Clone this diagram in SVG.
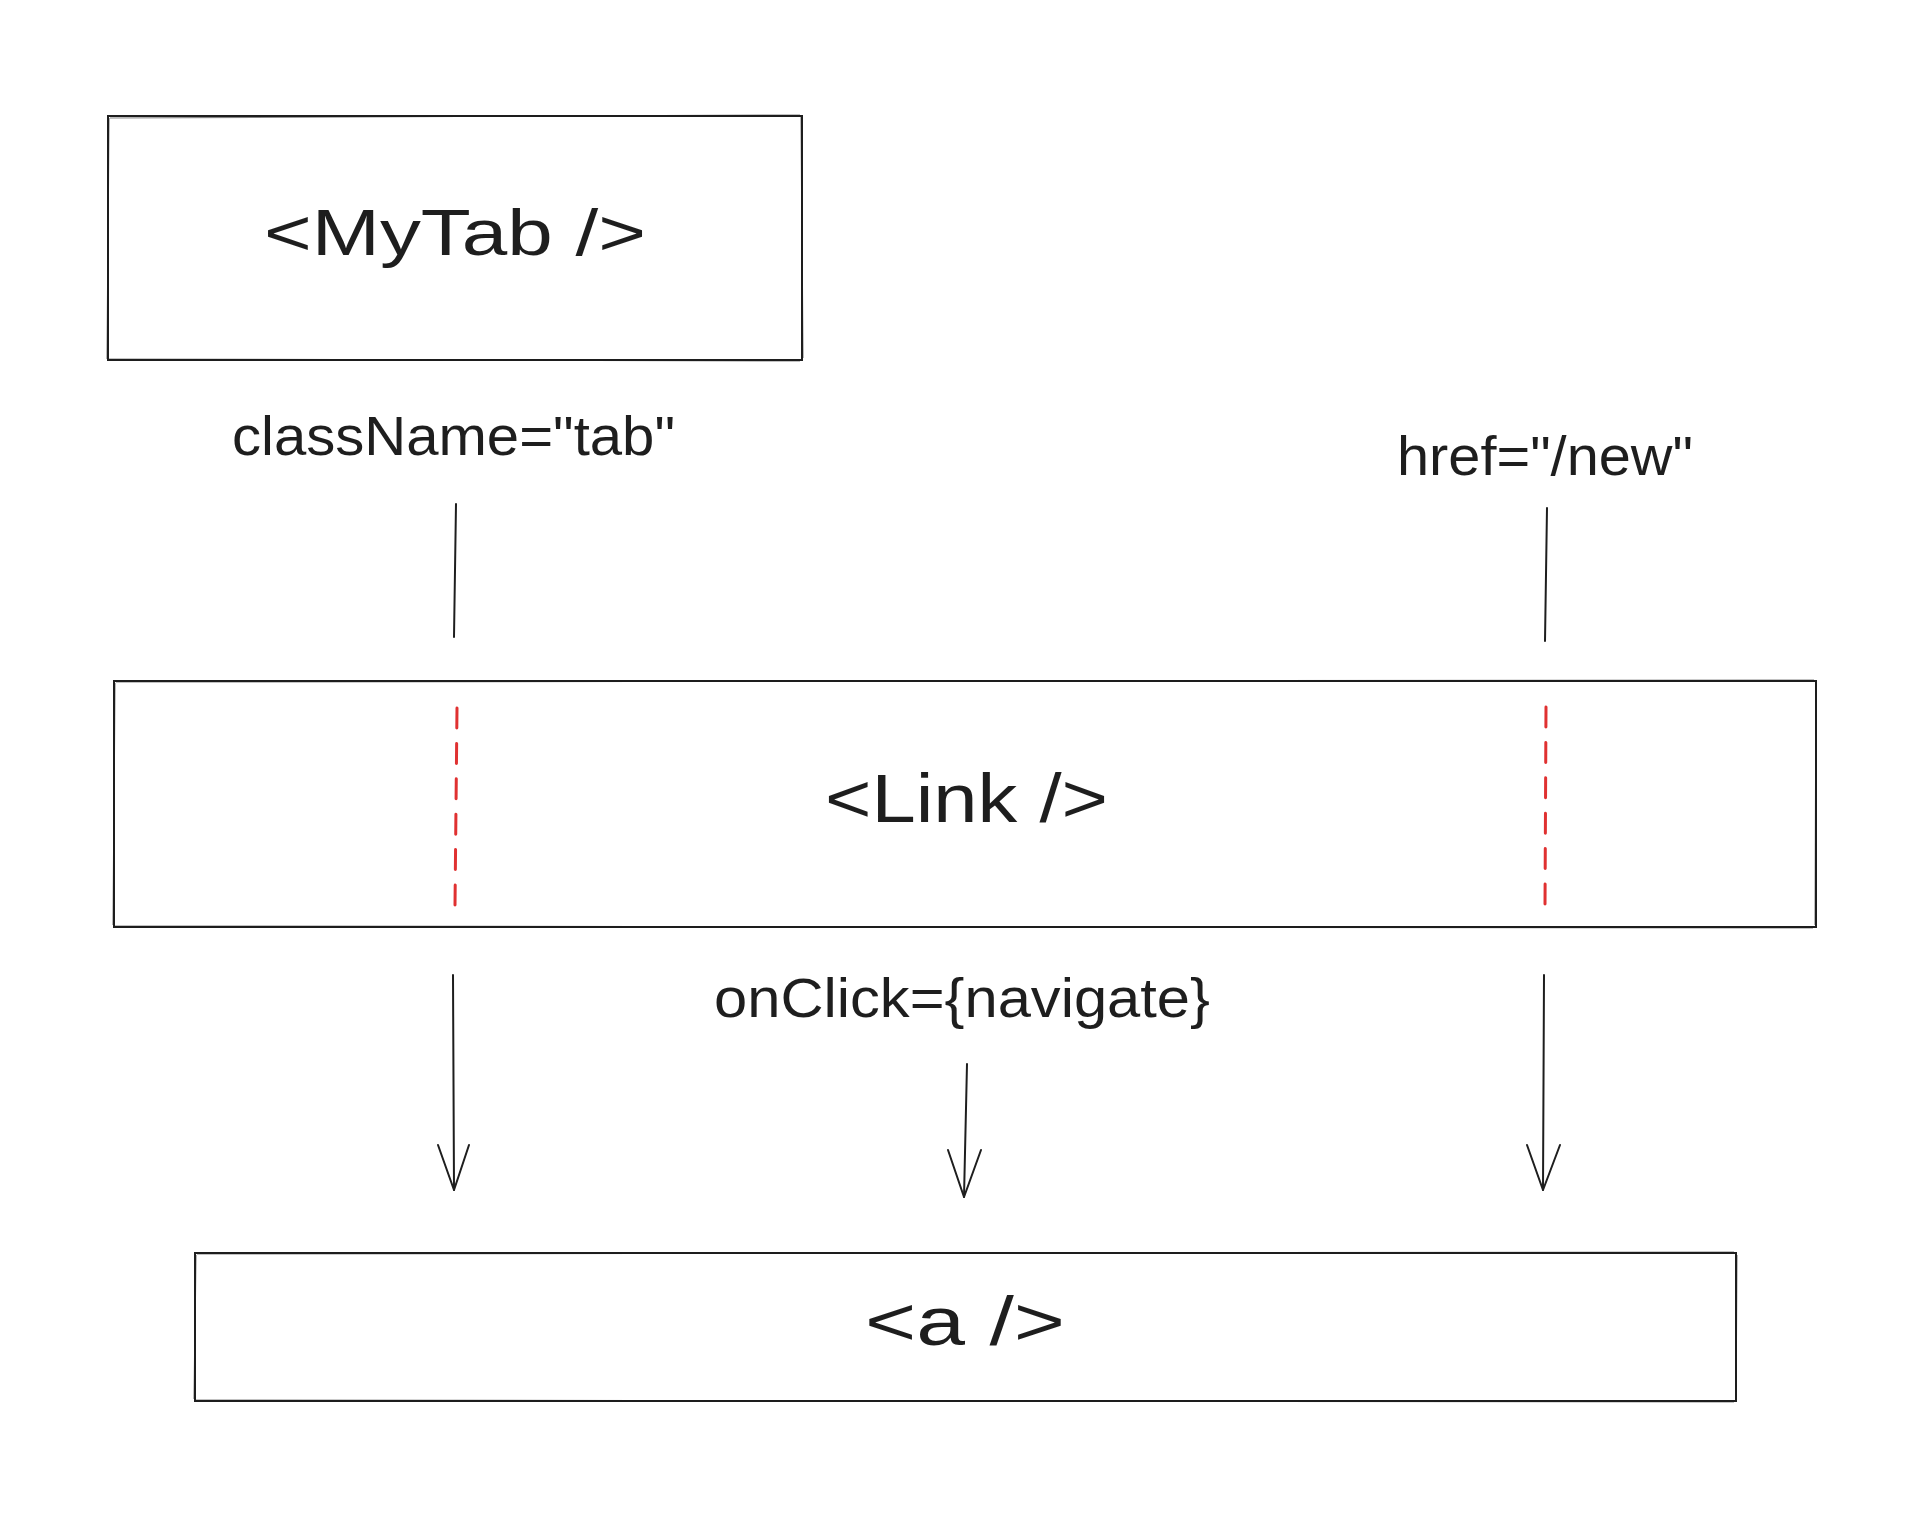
<svg xmlns="http://www.w3.org/2000/svg" width="1923" height="1518" viewBox="0 0 1923 1518">
<style>
.box{fill:#ffffff;stroke:#1e1e1e;stroke-width:2;}
.sk{fill:none;stroke:#1e1e1e;stroke-width:1.2;opacity:0.55;}
.lbl{font-family:"Liberation Sans","DejaVu Sans",sans-serif;fill:#1e1e1e;}
.line{fill:none;stroke:#1e1e1e;stroke-width:2;stroke-linecap:round;stroke-linejoin:round;}
.red{fill:none;stroke:#e03131;stroke-width:3;stroke-linecap:round;stroke-dasharray:20 15.4;}
</style>
<rect width="1923" height="1518" fill="#ffffff"/>
<g id="node-mytab">
  <rect class="box" x="108" y="116" width="694" height="244"/>
  <path class="sk" d="M110 118 L800 115 M801 117 L803 358 M800 361 L109 359 M107 359 L109 118"/>
  <text class="lbl" x="264" y="255" font-size="64" textLength="382" lengthAdjust="spacingAndGlyphs">&lt;MyTab /&gt;</text>
</g>
<g id="label-classname">
  <text class="lbl" x="232" y="455" font-size="56" textLength="443" lengthAdjust="spacingAndGlyphs">className="tab"</text>
</g>
<g id="label-href">
  <text class="lbl" x="1397" y="475" font-size="56" textLength="296" lengthAdjust="spacingAndGlyphs">href="/new"</text>
</g>
<g id="node-link">
  <rect class="box" x="114" y="681" width="1702" height="246"/>
  <path class="sk" d="M116 682 L1814 680 M1816 683 L1815 925 M1813 928 L115 926 M113 925 L115 683"/>
  <line class="red" x1="457" y1="708" x2="455" y2="905"/>
  <line class="red" x1="1546" y1="707" x2="1545" y2="907"/>
  <text class="lbl" x="825" y="822" font-size="68" textLength="283" lengthAdjust="spacingAndGlyphs">&lt;Link /&gt;</text>
</g>
<g id="label-onclick">
  <text class="lbl" x="714" y="1017" font-size="56" textLength="496" lengthAdjust="spacingAndGlyphs">onClick={navigate}</text>
</g>
<g id="node-a">
  <rect class="box" x="195" y="1253" width="1541" height="148"/>
  <path class="sk" d="M197 1254 L1734 1252 M1737 1255 L1736 1399 M1734 1402 L196 1400 M194 1399 L196 1255"/>
  <text class="lbl" x="865" y="1345" font-size="68" textLength="200" lengthAdjust="spacingAndGlyphs">&lt;a /&gt;</text>
</g>
<g id="connectors">
  <path class="line" d="M456 504 L454 637"/>
  <path class="line" d="M1547 508 L1545 641"/>
  <path class="line" d="M453 975 L454 1190"/>
  <path class="line" d="M438 1145 L454 1190 L469 1145"/>
  <path class="line" d="M967 1064 L964 1197"/>
  <path class="line" d="M948 1150 L964 1197 L981 1150"/>
  <path class="line" d="M1544 975 L1543 1190"/>
  <path class="line" d="M1527 1145 L1543 1190 L1560 1145"/>
</g>
</svg>
